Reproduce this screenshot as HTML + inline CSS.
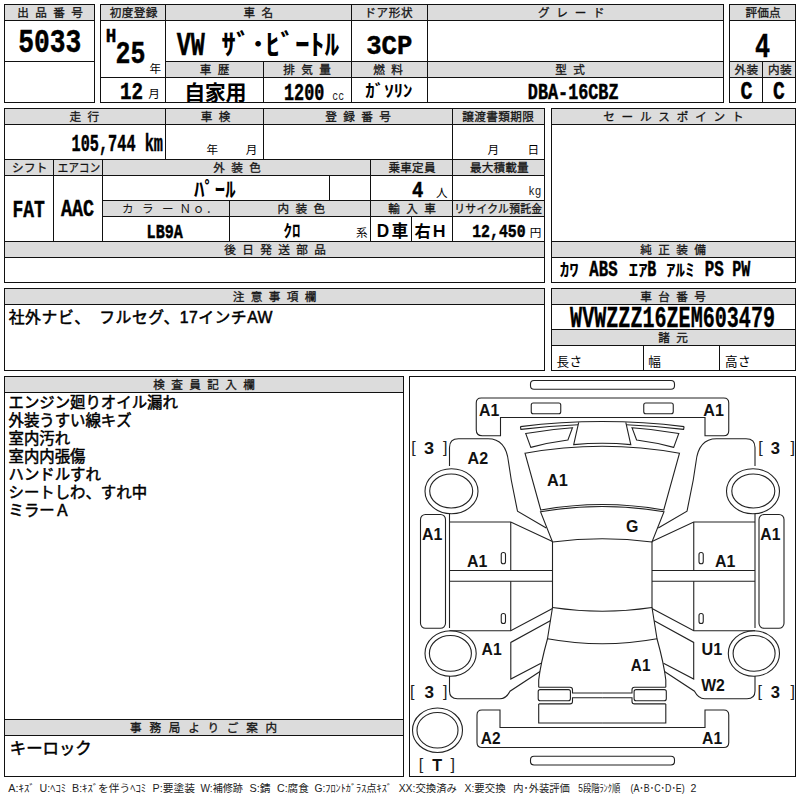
<!DOCTYPE html>
<html lang="ja"><head><meta charset="utf-8"><title>Auction sheet 5033</title>
<style>
html,body{margin:0;padding:0;background:#fff}
body{width:800px;height:800px;overflow:hidden;font-family:"Liberation Sans",sans-serif}
svg{display:block}
.j{font-family:"Liberation Sans","Noto Sans CJK JP",sans-serif}
.h{font-family:"Liberation Sans","Noto Sans CJK JP",sans-serif;font-size:11.6px;fill:#151515;stroke:#151515;stroke-width:.3px}
.u{font-family:"Liberation Sans","Noto Sans CJK JP",sans-serif;font-size:11.6px;fill:#000}
.b{font-family:"Liberation Sans","Noto Sans CJK JP",sans-serif;font-weight:bold;fill:#000}
.n{font-family:"Liberation Sans","Noto Sans CJK JP",sans-serif;font-size:15.4px;fill:#000;stroke:#000;stroke-width:.5px}
.l{font-family:"Liberation Sans","Noto Sans CJK JP",sans-serif;font-size:10.6px;fill:#222}
</style></head><body>
<svg width="800" height="800" viewBox="0 0 800 800" font-family="'Liberation Sans', sans-serif">
<rect width="800" height="800" fill="#fff"/>
<rect x="4" y="4" width="91" height="17" fill="#dcdcdc"/>
<rect x="100" y="4" width="624" height="17" fill="#dcdcdc"/>
<rect x="729" y="4" width="67" height="17" fill="#dcdcdc"/>
<rect x="165" y="61" width="559" height="17" fill="#dcdcdc"/>
<rect x="729" y="61" width="67" height="17" fill="#dcdcdc"/>
<rect x="4" y="108" width="541" height="17" fill="#dcdcdc"/>
<rect x="4" y="159" width="541" height="17" fill="#dcdcdc"/>
<rect x="102" y="200" width="443" height="17" fill="#dcdcdc"/>
<rect x="4" y="241" width="541" height="17" fill="#dcdcdc"/>
<rect x="551" y="108" width="245" height="17" fill="#dcdcdc"/>
<rect x="551" y="241" width="245" height="17" fill="#dcdcdc"/>
<rect x="4" y="288" width="541" height="17" fill="#dcdcdc"/>
<rect x="551" y="288" width="245" height="17" fill="#dcdcdc"/>
<rect x="551" y="329" width="245" height="17" fill="#dcdcdc"/>
<rect x="4" y="376" width="400" height="17" fill="#dcdcdc"/>
<rect x="4" y="719" width="400" height="17" fill="#dcdcdc"/>
<text class="h" x="17.2" y="16.6" letter-spacing="6.4">出品番号</text>
<text class="h" x="109.7" y="16.6" letter-spacing="0.4">初度登録</text>
<text class="h" x="243.5" y="16.6" letter-spacing="6.4">車名</text>
<text class="h" x="364.4" y="16.6" letter-spacing="0.6">ドア形状</text>
<text class="h" x="538.05" y="16.6" letter-spacing="6.7">グレード</text>
<text class="h" x="745.4" y="16.6" letter-spacing="0.2">評価点</text>
<text class="h" x="199.7" y="73.6" letter-spacing="6.4">車歴</text>
<text class="h" x="283.2" y="73.6" letter-spacing="6.4">排気量</text>
<text class="h" x="373.2" y="73.6" letter-spacing="6.4">燃料</text>
<text class="h" x="555.2" y="73.6" letter-spacing="6.4">型式</text>
<text class="h" x="734.6" y="73.6" letter-spacing="0.2">外装</text>
<text class="h" x="768.1" y="73.6" letter-spacing="0.2">内装</text>
<text class="h" x="69.4" y="120.6" letter-spacing="6.4">走行</text>
<text class="h" x="200.8" y="120.6" letter-spacing="6.4">車検</text>
<text class="h" x="325.2" y="120.6" letter-spacing="6.4">登録番号</text>
<text class="h" x="462.2" y="120.6" letter-spacing="0.4">譲渡書類期限</text>
<text class="h" x="12.1" y="171.6" letter-spacing="0.2">シフト</text>
<text class="h" transform="translate(57.73 171.6) scale(0.9 1)" letter-spacing="0.3">エアコン</text>
<text class="h" x="213.2" y="171.6" letter-spacing="6.4">外装色</text>
<text class="h" x="388.5" y="171.6" letter-spacing="0.2">乗車定員</text>
<text class="h" x="469.9" y="171.6" letter-spacing="0.2">最大積載量</text>
<text class="j" x="122" y="212.6" font-size="11.6" fill="#151515" letter-spacing="8.4">カラー</text>
<text class="j" x="179.6" y="212.6" font-size="11.6" fill="#151515" letter-spacing="1.6">Ｎｏ．</text>
<text class="h" x="277.4" y="212.6" letter-spacing="6.4">内装色</text>
<text class="h" x="388.2" y="212.6" letter-spacing="6.4">輸入車</text>
<text class="h" transform="translate(454.26 212.6) scale(0.93 1)" letter-spacing="0.34">リサイクル預託金</text>
<text class="h" x="224.2" y="253.6" letter-spacing="6.4">後日発送部品</text>
<text class="h" x="603.2" y="120.6" letter-spacing="6.8">セールスポイント</text>
<text class="h" x="640.2" y="253.6" letter-spacing="6.4">純正装備</text>
<text class="h" x="232.7" y="300.6" letter-spacing="6.4">注意事項欄</text>
<text class="h" x="640.2" y="300.6" letter-spacing="6.4">車台番号</text>
<text class="h" x="658.2" y="341.6" letter-spacing="6.4">諸元</text>
<text class="h" x="153.2" y="388.6" letter-spacing="6.4">検査員記入欄</text>
<text class="h" x="130.05" y="731.6" letter-spacing="7.8">事務局よりご案内</text>
<text transform="translate(18.15 52.41) scale(0.8123 1)" font-size="32.42" font-weight="bold" fill="#000" stroke="#000" stroke-width="0.45" font-family="'Liberation Mono', monospace">5033</text>
<text transform="translate(105.81 41.77) scale(0.8703 1)" font-size="20.27" font-weight="bold" fill="#000" stroke="#000" stroke-width="0.45" font-family="'Liberation Mono', monospace">H</text>
<text transform="translate(115.48 62.97) scale(0.804 1)" font-size="31.01" font-weight="bold" fill="#000" stroke="#000" stroke-width="0.45" font-family="'Liberation Mono', monospace">25</text>
<text class="u" x="149.5" y="72.6">年</text>
<text transform="translate(119.88 99.08) scale(0.777 1)" font-size="24.74" font-weight="bold" fill="#000" stroke="#000" stroke-width="0.45" font-family="'Liberation Mono', monospace">12</text>
<text class="u" x="148.3" y="98.2">月</text>
<text transform="translate(176.73 54.77) scale(0.7162 1)" font-size="32.72" font-weight="bold" fill="#000" stroke="#000" stroke-width="0.45" font-family="'Liberation Mono', monospace">VW</text>
<text class="b" transform="translate(221.3 54.9) scale(1.045 1)" font-size="28.2">ｻﾞ･ﾋﾞｰﾄﾙ</text>
<text class="b" x="184.3" y="100" font-size="21" letter-spacing="-0.44">自家用</text>
<text transform="translate(284.03 99.54) scale(0.7096 1)" font-size="23.65" font-weight="bold" fill="#000" stroke="#000" stroke-width="0.45" font-family="'Liberation Mono', monospace">1200</text>
<text transform="translate(332.37 100.17) scale(0.7615 1)" font-size="12.96" font-weight="normal" fill="#222" font-family="'Liberation Mono', monospace">cc</text>
<text class="b" transform="translate(365.2 97.3) scale(1.115 1)" font-size="17">ｶﾞｿﾘﾝ</text>
<text transform="translate(366.24 53.86) scale(0.9104 1)" font-size="28.15" font-weight="bold" fill="#000" stroke="#000" stroke-width="0.45" font-family="'Liberation Mono', monospace">3CP</text>
<text transform="translate(527.82 99.07) scale(0.7838 1)" font-size="21.44" font-weight="bold" fill="#000" stroke="#000" stroke-width="0.45" font-family="'Liberation Mono', monospace">DBA-16CBZ</text>
<text transform="translate(754.99 56.77) scale(0.7345 1)" font-size="34.23" font-weight="bold" fill="#000" stroke="#000" stroke-width="0.45" font-family="'Liberation Mono', monospace">4</text>
<text transform="translate(740.39 99.22) scale(0.76 1)" font-size="26.3" font-weight="bold" fill="#000" stroke="#000" stroke-width="0.45" font-family="'Liberation Mono', monospace">C</text>
<text transform="translate(773 99.22) scale(0.7462 1)" font-size="26.3" font-weight="bold" fill="#000" stroke="#000" stroke-width="0.45" font-family="'Liberation Mono', monospace">C</text>
<text transform="translate(71.62 150.79) scale(0.6335 1)" font-size="24.02" font-weight="bold" fill="#000" stroke="#000" stroke-width="0.45" font-family="'Liberation Mono', monospace">105,744 km</text>
<text class="u" x="206.5" y="154">年</text>
<text class="u" x="245.8" y="154">月</text>
<text class="u" x="487.5" y="154">月</text>
<text class="u" x="527.5" y="154">日</text>
<text transform="translate(12.44 216.53) scale(0.7279 1)" font-size="24.75" font-weight="bold" fill="#000" stroke="#000" stroke-width="0.45" font-family="'Liberation Mono', monospace">FAT</text>
<text transform="translate(60.92 216.29) scale(0.7671 1)" font-size="24.02" font-weight="bold" fill="#000" stroke="#000" stroke-width="0.45" font-family="'Liberation Mono', monospace">AAC</text>
<text class="b" x="194" y="196.5" font-size="20.8">ﾊﾟｰﾙ</text>
<text transform="translate(412.05 196.78) scale(0.8842 1)" font-size="21.33" font-weight="bold" fill="#000" stroke="#000" stroke-width="0.45" font-family="'Liberation Mono', monospace">4</text>
<text class="u" x="436" y="197">人</text>
<text transform="translate(528.23 194.72) scale(0.8202 1)" font-size="13.42" font-weight="normal" fill="#222" font-family="'Liberation Mono', monospace">kg</text>
<text transform="translate(146.62 237.58) scale(0.7698 1)" font-size="19.6" font-weight="bold" fill="#000" stroke="#000" stroke-width="0.45" font-family="'Liberation Mono', monospace">LB9A</text>
<text class="b" x="283.5" y="236.5" font-size="17">ｸﾛ</text>
<text class="u" x="356" y="237.3">系</text>
<text class="b" x="374.6" y="236.6" font-size="16.8" letter-spacing="0.2">Ｄ車</text>
<text class="b" x="414.6" y="236.6" font-size="16.3" letter-spacing="0.2">右Ｈ</text>
<text transform="translate(472.18 236.59) scale(0.7879 1)" font-size="18.86" font-weight="bold" fill="#000" stroke="#000" stroke-width="0.45" font-family="'Liberation Mono', monospace">12,450</text>
<text class="u" x="529.7" y="237.3">円</text>
<text class="b" transform="translate(559.8 275.9) scale(1.12 1)" font-size="17">ｶﾜ</text>
<text transform="translate(589.36 276.06) scale(0.7224 1)" font-size="21.73" font-weight="bold" fill="#000" stroke="#000" stroke-width="0.45" font-family="'Liberation Mono', monospace">ABS</text>
<text class="b" transform="translate(628.8 275.9) scale(1.1 1)" font-size="17">ｴｱ</text>
<text transform="translate(647.15 276.27) scale(0.6712 1)" font-size="22.39" font-weight="bold" fill="#000" stroke="#000" stroke-width="0.45" font-family="'Liberation Mono', monospace">B</text>
<text class="b" transform="translate(666 275.9) scale(1.12 1)" font-size="17">ｱﾙﾐ</text>
<text transform="translate(704.71 276.06) scale(0.7292 1)" font-size="21.73" font-weight="bold" fill="#000" stroke="#000" stroke-width="0.45" font-family="'Liberation Mono', monospace">PS</text>
<text transform="translate(732.15 276.27) scale(0.6737 1)" font-size="22.39" font-weight="bold" fill="#000" stroke="#000" stroke-width="0.45" font-family="'Liberation Mono', monospace">PW</text>
<text class="j" x="8.7" y="323.4" font-size="15.8" fill="#000" stroke="#000" stroke-width="0.5" letter-spacing="0.6">社外ナビ、</text>
<text class="j" x="99.3" y="323.4" font-size="15.8" fill="#000" stroke="#000" stroke-width="0.5" letter-spacing="0.5">フルセグ、17インチAW</text>
<text transform="translate(570.12 327) scale(0.6954 1)" font-size="28.89" font-weight="bold" fill="#000" stroke="#000" stroke-width="0.35" font-family="'Liberation Mono', monospace">WVWZZZ16ZEM603479</text>
<text class="j" x="556.5" y="366" font-size="12.6" fill="#000" letter-spacing="0.4">長さ</text>
<text class="j" x="648.3" y="366" font-size="12.6" fill="#000">幅</text>
<text class="j" x="725" y="366" font-size="12.6" fill="#000" letter-spacing="0.4">高さ</text>
<text class="n" x="8.5" y="408.4">エンジン廻りオイル漏れ</text>
<text class="n" x="8.5" y="426.4">外装うすい線キズ</text>
<text class="n" x="8.5" y="444.4">室内汚れ</text>
<text class="n" x="8.5" y="462.4">室内内張傷</text>
<text class="n" x="8.5" y="480.4">ハンドルすれ</text>
<text class="n" x="8.5" y="498.4">シートしわ、すれ中</text>
<text class="n" x="8.5" y="516.4">ミラーＡ</text>
<text class="j" x="9.8" y="753.8" font-size="16.4" fill="#000" stroke="#000" stroke-width="0.5">キーロック</text>
<text class="l" x="8.3" y="791.6" textLength="26.5" lengthAdjust="spacingAndGlyphs">A:ｷｽﾞ</text>
<text class="l" x="39.6" y="791.6" textLength="26.5" lengthAdjust="spacingAndGlyphs">U:ﾍｺﾐ</text>
<text class="l" x="72" y="791.6" textLength="74.2" lengthAdjust="spacingAndGlyphs">B:ｷｽﾞを伴うﾍｺﾐ</text>
<text class="l" x="152.5" y="791.6" textLength="42.4" lengthAdjust="spacingAndGlyphs">P:要塗装</text>
<text class="l" x="200.5" y="791.6" textLength="42.4" lengthAdjust="spacingAndGlyphs">W:補修跡</text>
<text class="l" x="249.5" y="791.6" textLength="21.2" lengthAdjust="spacingAndGlyphs">S:錆</text>
<text class="l" x="277" y="791.6" textLength="31.8" lengthAdjust="spacingAndGlyphs">C:腐食</text>
<text class="l" x="314.5" y="791.6" textLength="77.5" lengthAdjust="spacingAndGlyphs">G:ﾌﾛﾝﾄｶﾞﾗｽ点ｷｽﾞ</text>
<text class="l" x="398.7" y="791.6" textLength="58.3" lengthAdjust="spacingAndGlyphs">XX:交換済み</text>
<text class="l" x="464.5" y="791.6" textLength="41.1" lengthAdjust="spacingAndGlyphs">X:要交換</text>
<text class="l" x="513.3" y="791.6" textLength="56.5" lengthAdjust="spacingAndGlyphs">内･外装評価</text>
<text class="l" x="578.3" y="791.6" textLength="41.9" lengthAdjust="spacingAndGlyphs">5段階ﾗﾝｸ順</text>
<text class="l" x="630.5" y="791.6" textLength="54.2" lengthAdjust="spacingAndGlyphs">(A･B･C･D･E)</text>
<text class="l" x="690.6" y="791.6">2</text>
<text transform="translate(479.1 415.5) scale(0.9951 1)" font-size="15.99" font-weight="bold" fill="#111">A1</text>
<text transform="translate(703.35 415.5) scale(1.0079 1)" font-size="15.99" font-weight="bold" fill="#111">A1</text>
<text transform="translate(467.6 463.75) scale(0.955 1)" font-size="16.83" font-weight="bold" fill="#111">A2</text>
<text transform="translate(547.09 486.25) scale(0.9555 1)" font-size="17.08" font-weight="bold" fill="#111">A1</text>
<text transform="translate(626.1 532.34) scale(0.9599 1)" font-size="16.6" font-weight="bold" fill="#111">G</text>
<text transform="translate(422.1 540) scale(0.973 1)" font-size="16.35" font-weight="bold" fill="#111">A1</text>
<text transform="translate(467.1 566.75) scale(0.9316 1)" font-size="17.08" font-weight="bold" fill="#111">A1</text>
<text transform="translate(715.1 566.75) scale(0.9316 1)" font-size="17.08" font-weight="bold" fill="#111">A1</text>
<text transform="translate(760.36 540) scale(0.9605 1)" font-size="16.35" font-weight="bold" fill="#111">A1</text>
<text transform="translate(481.61 655) scale(0.9605 1)" font-size="16.35" font-weight="bold" fill="#111">A1</text>
<text transform="translate(701.53 654.84) scale(1.0029 1)" font-size="16.12" font-weight="bold" fill="#111">U1</text>
<text transform="translate(630.87 671.25) scale(0.9356 1)" font-size="16.35" font-weight="bold" fill="#111">A1</text>
<text transform="translate(701.23 690.5) scale(0.9368 1)" font-size="16.83" font-weight="bold" fill="#111">W2</text>
<text transform="translate(480.87 744.25) scale(0.9591 1)" font-size="16.11" font-weight="bold" fill="#111">A2</text>
<text transform="translate(702.11 744.25) scale(0.9605 1)" font-size="16.35" font-weight="bold" fill="#111">A1</text>
<text transform="translate(424.08 454.31) scale(1.0705 1)" font-size="16.91" font-weight="bold" fill="#111">3</text>
<text transform="translate(411.35 452.89) scale(0.981 1)" font-size="16.41" font-weight="normal" fill="#222">[</text>
<text transform="translate(442.92 452.89) scale(0.981 1)" font-size="16.41" font-weight="normal" fill="#222">]</text>
<text transform="translate(770.87 454.31) scale(0.9813 1)" font-size="16.91" font-weight="bold" fill="#111">3</text>
<text transform="translate(758.35 452.89) scale(0.981 1)" font-size="16.41" font-weight="normal" fill="#222">[</text>
<text transform="translate(790.42 452.89) scale(0.981 1)" font-size="16.41" font-weight="normal" fill="#222">]</text>
<text transform="translate(424.61 698.31) scale(1.011 1)" font-size="16.91" font-weight="bold" fill="#111">3</text>
<text transform="translate(410.1 696.89) scale(0.981 1)" font-size="16.41" font-weight="normal" fill="#222">[</text>
<text transform="translate(442.92 696.89) scale(0.981 1)" font-size="16.41" font-weight="normal" fill="#222">]</text>
<text transform="translate(770.87 698.31) scale(0.9813 1)" font-size="16.91" font-weight="bold" fill="#111">3</text>
<text transform="translate(757.6 696.89) scale(0.981 1)" font-size="16.41" font-weight="normal" fill="#222">[</text>
<text transform="translate(790.42 696.89) scale(0.981 1)" font-size="16.41" font-weight="normal" fill="#222">]</text>
<text transform="translate(432.32 771.25) scale(0.9446 1)" font-size="17.08" font-weight="bold" fill="#111">T</text>
<text transform="translate(418.85 769.7) scale(0.9973 1)" font-size="16.15" font-weight="normal" fill="#222">[</text>
<text transform="translate(450.42 769.7) scale(0.9973 1)" font-size="16.15" font-weight="normal" fill="#222">]</text>
<path d="M4 4.5H95M4 102.5H95M4.5 4V103M94.5 4V103M4 20.5H95M4 61.5H95M100 4.5H724M100 102.5H724M100.5 4V103M723.5 4V103M100 20.5H724M165.5 4V103M100 77.5H724M165 61.5H724M351.5 4V103M427.5 4V103M263.5 61V103M729 4.5H796M729 102.5H796M729.5 4V103M795.5 4V103M729 20.5H796M729 61.5H796M729 77.5H796M762.5 61V103M4 108.5H545M4 282.5H545M4.5 108V283M544.5 108V283M4 124.5H545M4 159.5H545M4 175.5H545M4 241.5H545M4 257.5H545M102 200.5H545M102 216.5H545M165.5 108V160M263.5 108V160M452.5 108V242M53.5 159V242M102.5 159V242M370.5 159V242M329.5 175V201M229.5 200V242M411.5 216V242M551 108.5H796M551 282.5H796M551.5 108V283M795.5 108V283M551 124.5H796M551 241.5H796M551 257.5H796M4 288.5H545M4 370.5H545M4.5 288V371M544.5 288V371M4 304.5H545M551 288.5H796M551 370.5H796M551.5 288V371M795.5 288V371M551 304.5H796M551 329.5H796M551 345.5H796M643.5 345V371M719.5 345V371M4 376.5H404M4 776.5H404M4.5 376V777M403.5 376V777M4 392.5H404M4 719.5H404M4 735.5H404M409 376.5H796M409 776.5H796M409.5 376V777M795.5 376V777" stroke="#111" stroke-width="1" fill="none" shape-rendering="crispEdges"/>
<g fill="none" stroke="#222" stroke-width="1.1">
<rect x="530.5" y="380.5" width="144" height="8.75" rx="3.5"/>
<rect x="530.5" y="756.25" width="144" height="8.75" rx="3.5"/>
<path d="M481.25 398H723.75Q728.75 398 728.75 403V430.75Q728.75 435.75 723.75 435.75H705V417.5H500.5V435.75H482.25Q476.25 435.75 476.25 429.75V403Q476.25 398 481.25 398Z"/>
<path d="M482 710H500V727.5H705V710H723.75Q728.75 710 728.75 715V742.5Q728.75 747.5 723.75 747.5H482Q477 747.5 477 742.5V715Q477 710 482 710Z"/>
<path d="M525 453.25Q602.25 439.25 679.5 453.25L663.75 510Q602.25 499 540.75 510Z"/>
<path d="M540.5 511.75Q602.25 501.25 664 511.75L652 542Q602.25 535.5 552.5 542Z"/>
<path d="M552.5 607.5Q602.25 615 652 607.5"/>
<path d="M547.5 638.75Q602.25 648.75 657 638.75"/>
<path d="M520.4 426.6Q602.25 416.4 684.1 426.6"/>
<path d="M578.7 422.4L573.7 444.6Q602.25 441.8 630.8 444.6L625.8 422.4"/>
<ellipse cx="437.5" cy="730.25" rx="25" ry="22.25"/>
<ellipse cx="437.5" cy="730.25" rx="20.5" ry="17.75"/>
<g id="lh">
<rect x="531.25" y="403" width="29.5" height="10.75" rx="2"/>
<path d="M449.5 466V447.5Q449.5 438.75 458.5 438.75H488Q506 438.75 508.5 462L511.25 480L517.5 511.25L546.25 528"/>
<path d="M449.5 514V628"/>
<path d="M449.5 522H510.75L552.5 541.5"/>
<path d="M449.5 570.5H552.5M449.5 581.25H552.5"/>
<path d="M510.75 522V570.5M510.75 581.25V630.75"/>
<path d="M552.5 541.5V608"/>
<path d="M449.5 630.75H510.75L552.5 608.5"/>
<rect x="501.25" y="552.5" width="4.25" height="11.25" rx="2"/>
<rect x="501.25" y="613.5" width="4.25" height="10" rx="2"/>
<rect x="420.5" y="514.5" width="25" height="113.75" rx="5"/>
<ellipse cx="451.5" cy="491.25" rx="26.5" ry="22.5"/>
<ellipse cx="451.2" cy="491" rx="21.5" ry="17"/>
<ellipse cx="450.6" cy="653.5" rx="25.6" ry="22.75"/>
<ellipse cx="450.4" cy="653.4" rx="21" ry="17.9"/>
<path d="M449.5 676V691Q449.5 698.75 457.5 698.75H500Q506 698.75 510 691.25L540 671.5"/>
<path d="M550.3 620.8L510.8 642.4V679L541 663.2"/>
<path d="M552.5 607.5L547.5 638.75Q540.5 664 538.7 680V687.2"/>
<rect x="538.2" y="689.6" width="32.2" height="11.2" rx="2"/>
<path d="M538.7 687.2H570Q572.5 687.2 572.5 689.7V693H602.25"/>
<path d="M538.7 703.9H570Q572.5 703.9 572.5 701.4V697.7H602.25"/>
<path d="M538.7 703.9V723H602.25"/>
<path d="M520.4 426.6L520.9 429.4Q549 425.6 578.2 424.7"/>
<path d="M525.7 433.5Q549 429.2 572.5 427.7L567.9 440Q549.3 442.4 530.8 447.4Z"/>
</g>
<use href="#lh" transform="translate(1204.5 0) scale(-1 1)"/>
</g>
</svg>
</body></html>
